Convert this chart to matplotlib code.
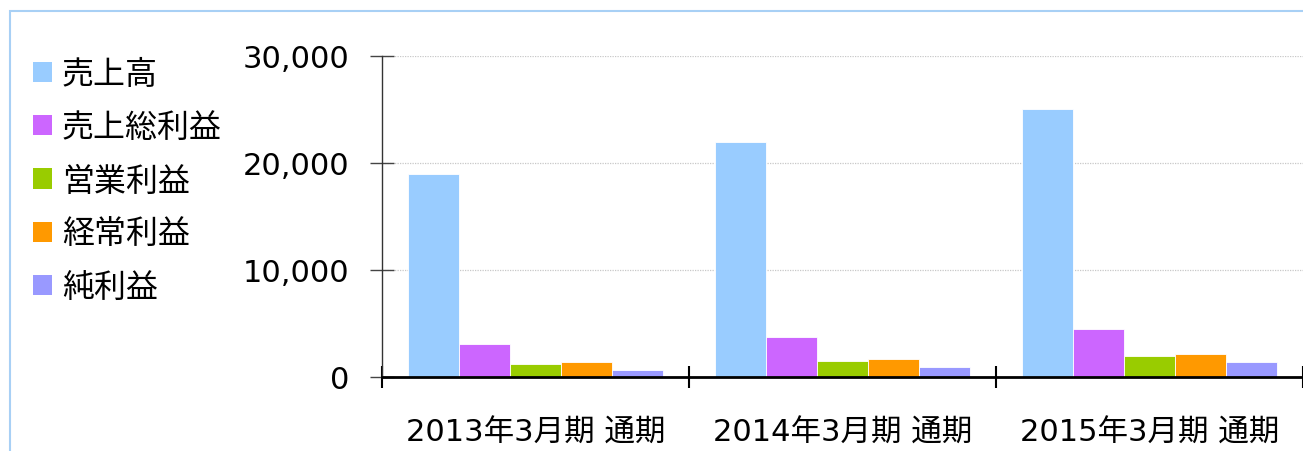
import matplotlib
matplotlib.use("Agg")
import matplotlib.pyplot as plt
import numpy as np
from matplotlib.patches import Rectangle
from matplotlib.ticker import FuncFormatter, FixedLocator

plt.rcParams['font.family'] = ['DejaVu Sans', 'Noto Sans CJK JP']

categories = ["2013年3月期 通期", "2014年3月期 通期", "2015年3月期 通期"]
series_names = ["売上高", "売上総利益", "営業利益", "経常利益", "純利益"]
sales = [19000, 22000, 25000]
gross_profit = [3100, 3700, 4500]
operating_profit = [1200, 1500, 2000]
ordinary_profit = [1400, 1680, 2150]
net_profit = [650, 930, 1370]
colors = ["#99CCFF", "#CC66FF", "#99CC00", "#FF9900", "#9999FF"]
yticks = [0, 10000, 20000, 30000]

series = [sales, gross_profit, operating_profit, ordinary_profit, net_profit]

fig = plt.figure(figsize=(13.03, 4.52), dpi=100)
ax = fig.add_axes([382/1303, 1-378/452, 1-382/1303, (378-57)/452])

n = len(series)
bw = 0.166
x = np.arange(len(categories))
handles = []
for i, (vals, c, name) in enumerate(zip(series, colors, series_names)):
    b = ax.bar(x + (i - (n-1)/2)*bw, vals, bw, color=c, label=name,
               edgecolor='white', linewidth=0.6, zorder=3)
    handles.append(b)

ax.set_xlim(-0.5, len(categories)-0.5)
ax.set_ylim(0, 30000)
ax.yaxis.set_major_locator(FixedLocator(yticks))
ax.yaxis.set_major_formatter(FuncFormatter(lambda v, p: f"{int(v):,}"))
ax.grid(axis='y', color='#c8c8c8', linestyle=(0, (1, 1)), linewidth=0.9, zorder=0)

for s in ['top', 'right']:
    ax.spines[s].set_visible(False)
ax.spines['left'].set_color('#333333')
ax.spines['left'].set_linewidth(1.0)
ax.spines['bottom'].set_color('black')
ax.spines['bottom'].set_linewidth(2.0)
ax.spines['bottom'].set_zorder(5)

# x ticks at group boundaries, labels at centers
ax.set_xticks(np.arange(len(categories)+1) - 0.5)
ax.set_xticklabels([])
ax.set_xticks(x, minor=True)
ax.set_xticklabels(categories, minor=True, fontsize=22)
ax.tick_params(axis='x', which='major', direction='inout', length=16, width=1.5, color='black')
ax.tick_params(axis='x', which='minor', length=0, pad=29)
ax.tick_params(axis='y', direction='inout', length=17, width=1.0, color='#444444',
               labelsize=22, pad=15)

leg = fig.legend(handles=handles, labels=series_names, loc='upper left',
                 bbox_to_anchor=(33/1303, 1-60/452), frameon=False,
                 fontsize=23, handlelength=0.6, handleheight=0.6,
                 handletextpad=0.3, labelspacing=0.70, borderaxespad=0, borderpad=0)
for h in leg.legend_handles:
    h.set_edgecolor('none')

fig.patches.append(Rectangle((10/1303, -0.1), 1.2, 1-12/452+0.1, transform=fig.transFigure,
                             fill=False, edgecolor='#A8D0F5', linewidth=1.5))

fig.savefig("out.png", dpi=100)
